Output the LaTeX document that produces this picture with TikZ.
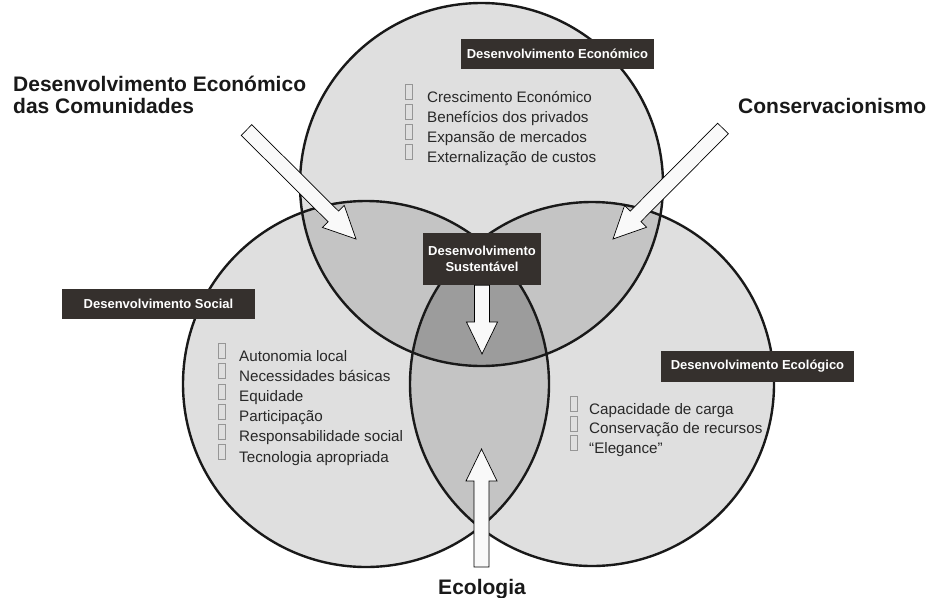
\documentclass[tikz,border=0pt]{standalone}
\usepackage{fontspec}
\setmainfont{Liberation Sans}
\usetikzlibrary{calc}

\definecolor{onefill}{RGB}{223,223,223}
\definecolor{twofill}{RGB}{196,196,196}
\definecolor{threefill}{RGB}{156,156,156}
\definecolor{tagfill}{RGB}{53,48,45}
\definecolor{listink}{RGB}{40,40,40}
\definecolor{labelink}{RGB}{25,25,25}
\definecolor{bulletink}{RGB}{150,150,150}
\definecolor{arrowfill}{RGB}{249,249,249}

\tikzset{
  ring/.style={draw=black!90, line width=2.4pt},
  tag/.style={fill=tagfill, text=white, inner sep=0pt, align=center,
    font=\fontsize{13}{15.5}\selectfont\bfseries},
  listtext/.style={anchor=base west, inner sep=0pt, text=listink,
    font=\fontsize{15.2}{18}\selectfont},
  bulletbox/.style={draw=bulletink, line width=0.6pt, inner sep=0pt,
    minimum width=7pt, minimum height=15pt},
  biglabel/.style={inner sep=0pt, text=labelink,
    font=\fontsize{21}{24}\selectfont\bfseries},
  blockstyle/.style={fill=arrowfill, draw=black, line width=0.7pt, line join=miter},
}

% block arrow from #1 (tail) to #2 (tip)
\newcommand{\blockarrow}[2]{%
  \path ($(#2)!32pt!(#1)$) coordinate (hb);
  \filldraw[blockstyle]
    ($(#1)!7.5pt!90:(#2)$) -- ($(hb)!7.5pt!-90:(#1)$) -- ($(hb)!15.5pt!-90:(#1)$)
    -- (#2) -- ($(hb)!15.5pt!90:(#1)$) -- ($(hb)!7.5pt!90:(#1)$)
    -- ($(#1)!7.5pt!-90:(#2)$) -- cycle;
}

\begin{document}
\begin{tikzpicture}[x=1pt,y=-1pt]
\useasboundingbox (0,0) rectangle (931,597);

% circle centres
\coordinate (E) at (481.5,184.5);
\coordinate (S) at (366,384);
\coordinate (C) at (592,384);
\def\rE{181.5pt}
\def\rS{183pt}
\def\rC{182pt}

% single regions
\fill[onefill] (E) circle[radius=\rE];
\fill[onefill] (S) circle[radius=\rS];
\fill[onefill] (C) circle[radius=\rC];

% pairwise overlaps
\begin{scope}
  \clip (E) circle[radius=\rE];
  \fill[twofill] (S) circle[radius=\rS];
  \fill[twofill] (C) circle[radius=\rC];
\end{scope}
\begin{scope}
  \clip (S) circle[radius=\rS];
  \fill[twofill] (C) circle[radius=\rC];
\end{scope}

% triple overlap
\begin{scope}
  \clip (E) circle[radius=\rE];
  \clip (S) circle[radius=\rS];
  \fill[threefill] (C) circle[radius=\rC];
\end{scope}

% outlines
\draw[ring] (E) circle[radius=\rE];
\draw[ring] (S) circle[radius=\rS];
\draw[ring] (C) circle[radius=\rC];

% economic list
\foreach \t [count=\i] in {Crescimento Económico, Benefícios dos privados,
    Expansão de mercados, Externalização de custos} {
  \node[listtext] (eco\i) at (427,{102+20*(\i-1)}) {\t};
  \node[bulletbox] (ecob\i) at (409,{92+20*(\i-1)}) {};
}

% social list
\foreach \t [count=\i] in {Autonomia local, Necessidades básicas, Equidade,
    Participação, Responsabilidade social, Tecnologia apropriada} {
  \node[listtext] (soc\i) at (239,{361+20.2*(\i-1)}) {\t};
  \node[bulletbox] (socb\i) at (222,{351+20.2*(\i-1)}) {};
}

% ecological list
\foreach \t [count=\i] in {Capacidade de carga, Conservação de recursos,
    “Elegance”} {
  \node[listtext] (ecl\i) at (589,{414+19.5*(\i-1)}) {\t};
  \node[bulletbox] (eclb\i) at (574,{404+19.5*(\i-1)}) {};
}

% labelled tags
\node[tag, minimum width=193pt, minimum height=30pt] (econ) at (557.5,54)
  {Desenvolvimento Económico};
\node[tag, minimum width=193pt, minimum height=30pt] (soc) at (158.5,304)
  {Desenvolvimento Social};
\node[tag, minimum width=193pt, minimum height=31pt] (ecol) at (757.5,366.5)
  {Desenvolvimento Ecológico};
\node[tag, minimum width=118pt, minimum height=52pt] (sus) at (482,259)
  {Desenvolvimento\\Sustentável};

% arrows
\coordinate (comTail) at (246.5,130);
\coordinate (comTip) at (356,239);
\coordinate (conTail) at (723,128.5);
\coordinate (conTip) at (613,239);
\coordinate (susTip) at (482,354);
\coordinate (ecoTail) at (481.5,567);
\coordinate (ecoTip) at (481.5,449);
\blockarrow{comTail}{comTip}
\blockarrow{conTail}{conTip}
\blockarrow{sus.south}{susTip}
\blockarrow{ecoTail}{ecoTip}

% outer labels
\node[biglabel, anchor=base west] (comm1) at (13,91) {Desenvolvimento Económico};
\node[biglabel, anchor=base west] (comm2) at (13,113) {das Comunidades};
\node[biglabel, anchor=base west] (cons) at (738,113) {Conservacionismo};
\node[biglabel, anchor=base] (ecolg) at (482,594) {Ecologia};
\end{tikzpicture}
\end{document}
